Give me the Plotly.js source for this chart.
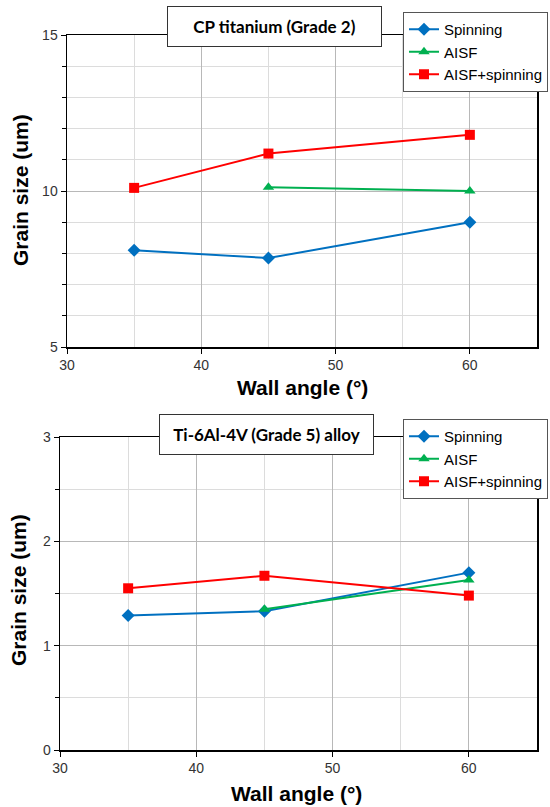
<!DOCTYPE html>
<html>
<head>
<meta charset="utf-8">
<script src="https://cdn.plot.ly/plotly-3.0.1.min.js"></script>
<style>html,body{margin:0;padding:0;background:#fff}#chart{width:550px;height:807px}</style>
</head>
<body>
<div id="chart"></div>
<script>
// Shared x categories (wall angle, degrees)
const wallAngles = [35, 45, 60];
const aisfAngles = [45, 60];

// Top chart: CP titanium (Grade 2)
const cpSpinning = [8.1, 7.85, 9.0];
const cpAISF = [10.12, 10.0];
const cpAISFSpinning = [10.1, 11.2, 11.8];

// Bottom chart: Ti-6Al-4V (Grade 5) alloy
const tiSpinning = [1.29, 1.33, 1.70];
const tiAISF = [1.35, 1.63];
const tiAISFSpinning = [1.55, 1.67, 1.48];

const seriesNames = ["Spinning", "AISF", "AISF+spinning"];
const titles = ["CP titanium (Grade 2)", "Ti-6Al-4V (Grade 5) alloy"];
const xTitle = "Wall angle (°)";
const yTitle = "Grain size (um)";

const blue = "#0070C0", green = "#00B050", red = "#FF0000";
const W = 550, H = 807;
const px = v => v / W;
const py = v => 1 - v / H;

function tr(x, y, name, color, sym, size, xa, ya, leg) {
  return {x: x, y: y, name: name, type: "scatter", mode: "lines+markers",
    line: {color: color, width: 2}, marker: {color: color, symbol: sym, size: size},
    xaxis: xa, yaxis: ya, legend: leg};
}

const data = [
  tr(wallAngles, cpSpinning, seriesNames[0], blue, "diamond", 10, "x", "y", "legend"),
  tr(aisfAngles, cpAISF, seriesNames[1], green, "triangle-up", 10, "x", "y", "legend"),
  tr(wallAngles, cpAISFSpinning, seriesNames[2], red, "square", 10, "x", "y", "legend"),
  tr(wallAngles, tiSpinning, seriesNames[0], blue, "diamond", 10, "x2", "y2", "legend2"),
  tr(aisfAngles, tiAISF, seriesNames[1], green, "triangle-up", 10, "x2", "y2", "legend2"),
  tr(wallAngles, tiAISFSpinning, seriesNames[2], red, "square", 10, "x2", "y2", "legend2")
];

const tickFont = {family: "Liberation Sans, Arial, sans-serif", size: 14, color: "#333"};
function xax(dom, anchor) {
  return {domain: dom, anchor: anchor, range: [30, 65], dtick: 10, tick0: 30,
    showgrid: true, gridcolor: "#b8b8b8", gridwidth: 1,
    minor: {dtick: 5, showgrid: true, gridcolor: "#dcdcdc", gridwidth: 1, ticks: ""},
    showline: true, linecolor: "#000", linewidth: 1.5, mirror: true,
    ticks: "outside", ticklen: 5, tickcolor: "#000", zeroline: false,
    tickfont: tickFont, fixedrange: true};
}
function yax(dom, anchor, range, dtick, minor) {
  return {domain: dom, anchor: anchor, range: range, dtick: dtick, tick0: 0,
    showgrid: true, gridcolor: "#b8b8b8", gridwidth: 1,
    minor: {dtick: minor, showgrid: true, gridcolor: "#dcdcdc", gridwidth: 1, ticks: "outside", ticklen: 4, tickcolor: "#000"},
    showline: true, linecolor: "#000", linewidth: 1.5, mirror: true,
    ticks: "outside", ticklen: 5, tickcolor: "#000", zeroline: false,
    tickfont: tickFont, fixedrange: true};
}

const legFont = {family: "Liberation Sans, Arial, sans-serif", size: 15, color: "#000"};
const axTitleFont = {family: "Liberation Sans, Arial, sans-serif", size: 21, color: "#000", weight: "bold"};
const boxFont = {family: "Lato, Open Sans, sans-serif", size: 17, color: "#000", weight: "bold"};

const layout = {
  width: W, height: H,
  margin: {l: 0, r: 0, t: 0, b: 0},
  paper_bgcolor: "#fff", plot_bgcolor: "#fff",
  showlegend: true,
  xaxis: xax([px(67), px(537)], "y"),
  yaxis: yax([py(347), py(35)], "x", [5, 15], 5, 1),
  xaxis2: xax([px(60), px(537)], "y2"),
  yaxis2: yax([py(750), py(437)], "x2", [0, 3], 1, 0.5),
  legend: {x: px(403), y: py(12), xanchor: "left", yanchor: "top", bgcolor: "#fff",
    bordercolor: "#555", borderwidth: 1, font: legFont, tracegroupgap: 0, itemwidth: 30},
  legend2: {x: px(403), y: py(419), xanchor: "left", yanchor: "top", bgcolor: "#fff",
    bordercolor: "#555", borderwidth: 1, font: legFont, tracegroupgap: 0, itemwidth: 30},
  annotations: [
    {text: titles[0], xref: "paper", yref: "paper", x: px(274.5), y: py(27), xanchor: "center", yanchor: "middle",
      showarrow: false, font: boxFont, bgcolor: "#fff", bordercolor: "#333", borderwidth: 1, borderpad: 4, width: 205, height: 31},
    {text: titles[1], xref: "paper", yref: "paper", x: px(266.5), y: py(435), xanchor: "center", yanchor: "middle",
      showarrow: false, font: boxFont, bgcolor: "#fff", bordercolor: "#333", borderwidth: 1, borderpad: 4, width: 205, height: 31},
    {text: xTitle, xref: "paper", yref: "paper", x: px(302), y: py(387), xanchor: "center", yanchor: "middle",
      showarrow: false, font: axTitleFont},
    {text: xTitle, xref: "paper", yref: "paper", x: px(296), y: py(793), xanchor: "center", yanchor: "middle",
      showarrow: false, font: axTitleFont},
    {text: yTitle, xref: "paper", yref: "paper", x: px(20), y: py(190), xanchor: "center", yanchor: "middle",
      showarrow: false, font: axTitleFont, textangle: -90},
    {text: yTitle, xref: "paper", yref: "paper", x: px(18), y: py(590), xanchor: "center", yanchor: "middle",
      showarrow: false, font: axTitleFont, textangle: -90}
  ]
};

Plotly.newPlot("chart", data, layout, {displayModeBar: false, staticPlot: true});
</script>
</body>
</html>
